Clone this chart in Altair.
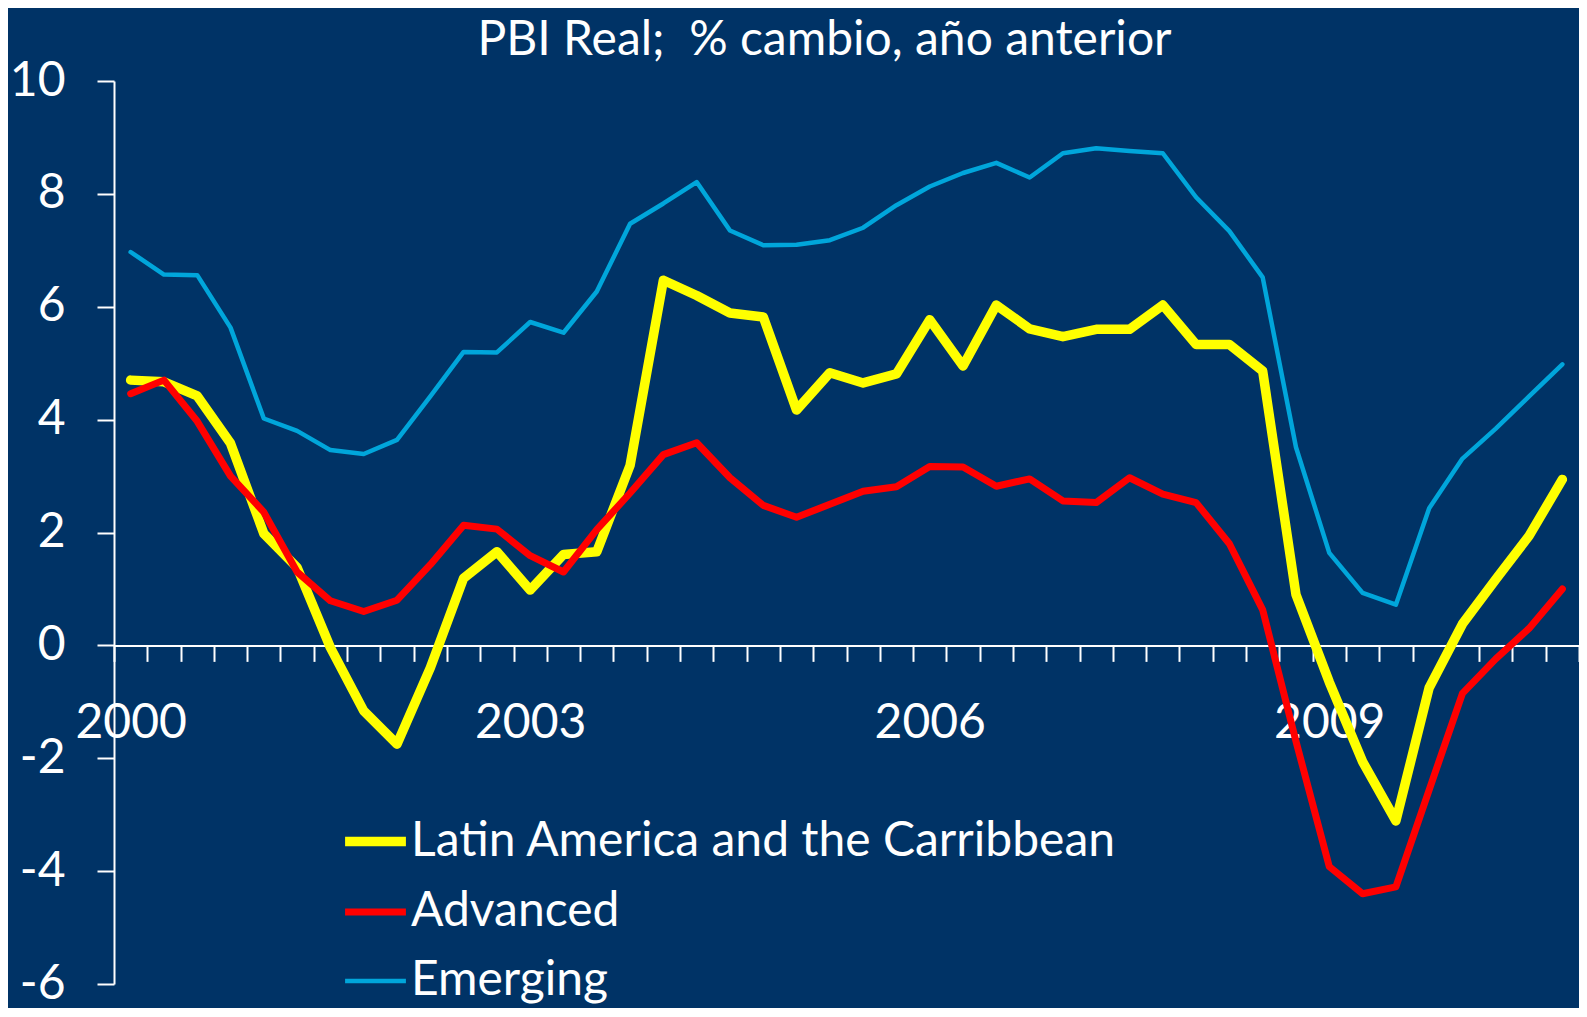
import altair as alt
import pandas as pd

# ---- data -------------------------------------------------------------
series_names = ["Latin America and the Carribbean", "Advanced", "Emerging"]
series_colors = ["#FFFF00", "#FF0000", "#00A6DB"]
series_widths = [9.5, 4.5, 4.5]
year_labels = ["2000", "2003", "2006", "2009"]
quarter_index = list(range(44))  # 2000Q1 ... 2010Q4

latam = [4.70, 4.67, 4.42, 3.58, 1.98, 1.38, -0.04, -1.16, -1.75, -0.40,
         1.19, 1.66, 0.98, 1.61, 1.66, 3.19, 6.47, 6.20, 5.89, 5.82,
         4.17, 4.83, 4.65, 4.81, 5.77, 4.95, 6.03, 5.61, 5.47, 5.60,
         5.60, 6.03, 5.33, 5.33, 4.86, 0.90, -0.65, -2.06, -3.11, -0.75,
         0.38, 1.17, 1.94, 2.94]
advanced = [4.46, 4.70, 3.97, 3.00, 2.36, 1.30, 0.79, 0.60, 0.80, 1.43,
            2.13, 2.06, 1.59, 1.30, 2.05, 2.70, 3.38, 3.59, 2.97, 2.48,
            2.27, 2.50, 2.73, 2.81, 3.17, 3.16, 2.82, 2.95, 2.56, 2.53,
            2.97, 2.68, 2.53, 1.80, 0.63, -1.70, -3.92, -4.40, -4.28, -2.56,
            -0.85, -0.24, 0.30, 1.00]
emerging = [6.97, 6.57, 6.56, 5.63, 4.02, 3.80, 3.46, 3.39, 3.64, 4.41,
            5.20, 5.19, 5.73, 5.54, 6.27, 7.47, 7.83, 8.21, 7.35, 7.09,
            7.10, 7.18, 7.40, 7.80, 8.13, 8.37, 8.55, 8.29, 8.72, 8.81,
            8.76, 8.72, 7.94, 7.34, 6.52, 3.51, 1.64, 0.93, 0.72, 2.43,
            3.31, 3.84, 4.41, 4.98]

rows = []
for k, (name, vals) in enumerate(zip(series_names, [latam, advanced, emerging])):
    for i, v in zip(quarter_index, vals):
        rows.append({"q": i, "value": v, "series": name, "z": k})
df = pd.DataFrame(rows)

# ---- layout -----------------------------------------------------------
Y_MIN, Y_MAX = -6, 10
W, H = 1465, 903
n = len(quarter_index)
zero_offset = -H * (0 - Y_MIN) / (Y_MAX - Y_MIN)
half_cat = W / n / 2

tick_values = [i - 0.5 for i in range(n + 1)]
label_expr = ""
for k, yl in enumerate(year_labels):
    label_expr += f"datum.value == {12 * k - 0.5} ? '{yl}' : "
label_expr += "''"

FONT = "Lato"
FS = 48
WHITE = "#FFFFFF"
BG = "#003366"

legend_cfg = dict(
    title=None,
    orient="none",
    legendX=226,
    legendY=725,
    symbolType="stroke",
    symbolSize=3700,
    labelFont=FONT,
    labelFontSize=FS,
    labelColor=WHITE,
    labelOffset=0,
    rowPadding=12,
    labelLimit=1000,
)

chart = (
    alt.Chart(df)
    .mark_line(strokeJoin="round", strokeCap="round")
    .encode(
        x=alt.X(
            "q:Q",
            scale=alt.Scale(domain=[-0.5, n - 0.5], nice=False, zero=False),
            axis=alt.Axis(
                values=tick_values,
                labelExpr=label_expr,
                labelOffset=half_cat,
                labelFlush=False,
                labelOverlap=False,
                offset=zero_offset,
                tickSize=16,
                tickWidth=2,
                tickColor=WHITE,
                domainColor=WHITE,
                domainWidth=2,
                labelPadding=38,
                labelFontSize=FS,
                labelFont=FONT,
                labelColor=WHITE,
                grid=False,
                title=None,
            ),
        ),
        y=alt.Y(
            "value:Q",
            scale=alt.Scale(domain=[Y_MIN, Y_MAX], nice=False, zero=False),
            axis=alt.Axis(
                values=list(range(Y_MIN, Y_MAX + 1, 2)),
                labelExpr="toString(datum.value)",
                tickSize=17,
                tickWidth=2,
                tickColor=WHITE,
                domainColor=WHITE,
                domainWidth=2,
                labelPadding=32,
                labelFontSize=FS,
                labelFont=FONT,
                labelColor=WHITE,
                grid=False,
                title=None,
            ),
        ),
        color=alt.Color(
            "series:N",
            scale=alt.Scale(domain=series_names, range=series_colors),
            sort=series_names,
            legend=alt.Legend(**legend_cfg),
        ),
        strokeWidth=alt.StrokeWidth(
            "series:N",
            scale=alt.Scale(domain=series_names, range=series_widths),
            sort=series_names,
            legend=alt.Legend(**legend_cfg),
        ),
        order=alt.Order("z:Q"),
    )
    .properties(
        width=W,
        height=H,
        title=alt.TitleParams(
            text="PBI Real;\u00a0 % cambio, año anterior",
            font=FONT,
            fontSize=FS,
            fontWeight="normal",
            color=WHITE,
            anchor="middle",
            dx=-22,
            offset=-8,
        ),
        autosize=alt.AutoSizeParams(type="none"),
        padding={"left": 106, "top": 73, "right": 0, "bottom": 24},
        background=BG,
    )
    .configure_view(stroke=None)
)

chart.save("out.html", embed_options={"renderer": "svg", "actions": False})
